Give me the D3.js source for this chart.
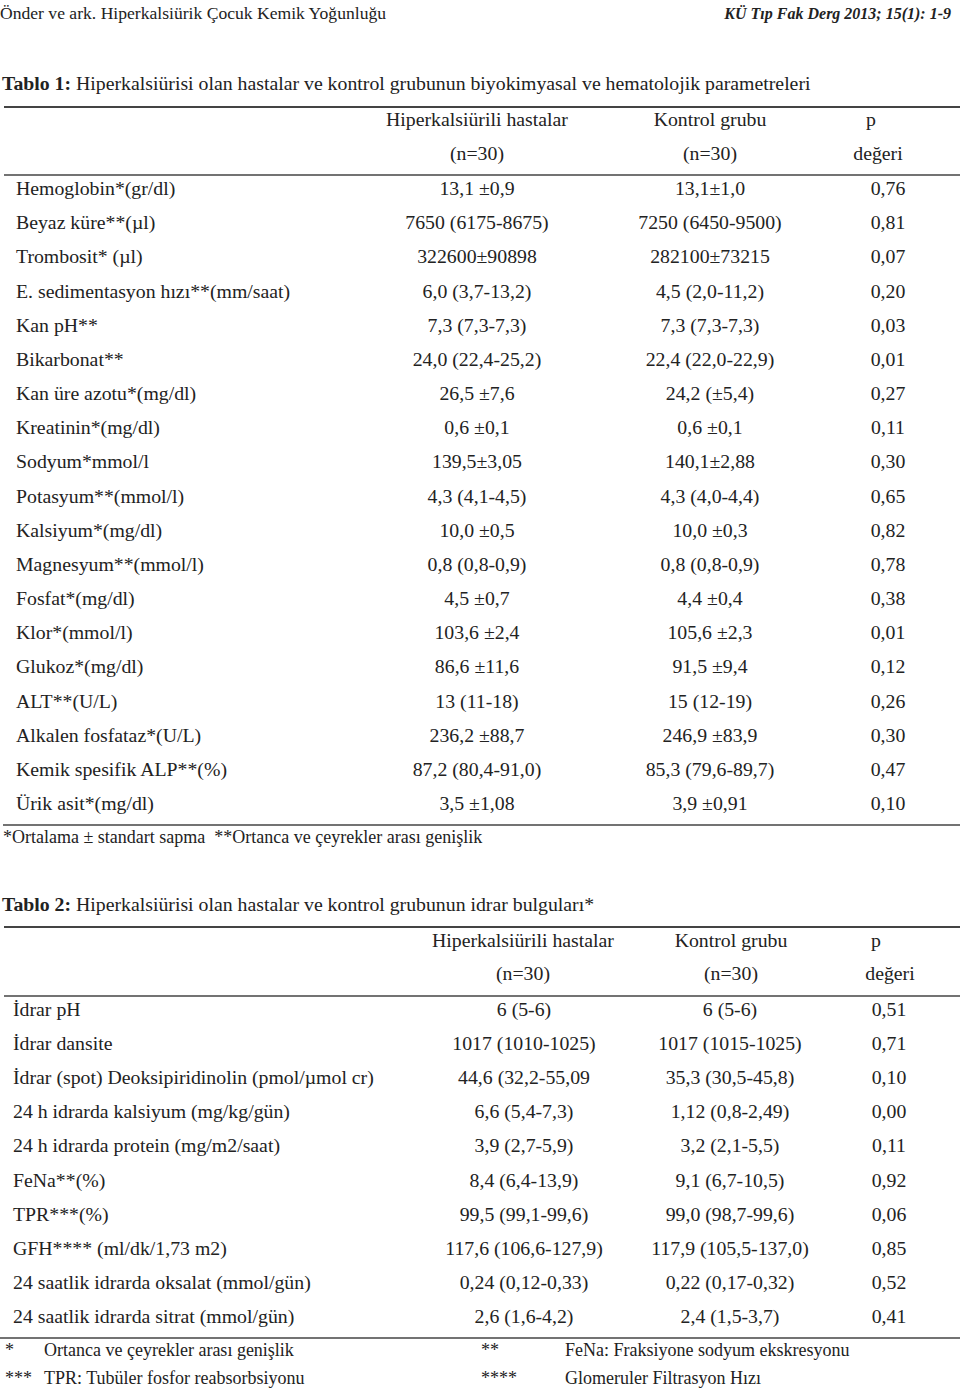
<!DOCTYPE html>
<html><head><meta charset="utf-8">
<script src="https://cdn.jsdelivr.net/npm/d3@7/dist/d3.min.js"></script>
<style>body{margin:0;background:#fff}svg{display:block}text{font-family:"Liberation Serif","Times New Roman",serif;fill:#222;white-space:pre}</style>
</head><body><div id="chart"></div>
<script>
const t1Labels = ["Hemoglobin*(gr/dl)","Beyaz küre**(µl)","Trombosit* (µl)","E. sedimentasyon hızı**(mm/saat)","Kan pH**","Bikarbonat**","Kan üre azotu*(mg/dl)","Kreatinin*(mg/dl)","Sodyum*mmol/l","Potasyum**(mmol/l)","Kalsiyum*(mg/dl)","Magnesyum**(mmol/l)","Fosfat*(mg/dl)","Klor*(mmol/l)","Glukoz*(mg/dl)","ALT**(U/L)","Alkalen fosfataz*(U/L)","Kemik spesifik ALP**(%)","Ürik asit*(mg/dl)"];
const t1Hyper = ["13,1 ±0,9","7650 (6175-8675)","322600±90898","6,0 (3,7-13,2)","7,3 (7,3-7,3)","24,0 (22,4-25,2)","26,5 ±7,6","0,6 ±0,1","139,5±3,05","4,3 (4,1-4,5)","10,0 ±0,5","0,8 (0,8-0,9)","4,5 ±0,7","103,6 ±2,4","86,6 ±11,6","13 (11-18)","236,2 ±88,7","87,2 (80,4-91,0)","3,5 ±1,08"];
const t1Control = ["13,1±1,0","7250 (6450-9500)","282100±73215","4,5 (2,0-11,2)","7,3 (7,3-7,3)","22,4 (22,0-22,9)","24,2 (±5,4)","0,6 ±0,1","140,1±2,88","4,3 (4,0-4,4)","10,0 ±0,3","0,8 (0,8-0,9)","4,4 ±0,4","105,6 ±2,3","91,5 ±9,4","15 (12-19)","246,9 ±83,9","85,3 (79,6-89,7)","3,9 ±0,91"];
const t1P = ["0,76","0,81","0,07","0,20","0,03","0,01","0,27","0,11","0,30","0,65","0,82","0,78","0,38","0,01","0,12","0,26","0,30","0,47","0,10"];

const t2Labels = ["İdrar pH","İdrar dansite","İdrar (spot) Deoksipiridinolin (pmol/µmol cr)","24 h idrarda kalsiyum (mg/kg/gün)","24 h idrarda protein (mg/m2/saat)","FeNa**(%)","TPR***(%)","GFH**** (ml/dk/1,73 m2)","24 saatlik idrarda oksalat (mmol/gün)","24 saatlik idrarda sitrat (mmol/gün)"];
const t2Hyper = ["6 (5-6)","1017 (1010-1025)","44,6 (32,2-55,09","6,6 (5,4-7,3)","3,9 (2,7-5,9)","8,4 (6,4-13,9)","99,5 (99,1-99,6)","117,6 (106,6-127,9)","0,24 (0,12-0,33)","2,6 (1,6-4,2)"];
const t2Control = ["6 (5-6)","1017 (1015-1025)","35,3 (30,5-45,8)","1,12 (0,8-2,49)","3,2 (2,1-5,5)","9,1 (6,7-10,5)","99,0 (98,7-99,6)","117,9 (105,5-137,0)","0,22 (0,17-0,32)","2,4 (1,5-3,7)"];
const t2P = ["0,51","0,71","0,10","0,00","0,11","0,92","0,06","0,85","0,52","0,41"];

const headTop = ["Hiperkalsiürili hastalar","Kontrol grubu","p"];
const headBottom = ["(n=30)","(n=30)","değeri"];
const t2Notes = [["*","Ortanca ve çeyrekler arası genişlik","**","FeNa: Fraksiyone sodyum ekskresyonu"],["***","TPR: Tubüler fosfor reabsorbsiyonu","****","Glomeruler Filtrasyon Hızı"]];

const W = 960, H = 1390;
const FS = 19.8, OFF = 7;
const svg = d3.select("#chart").append("svg").attr("width", W).attr("height", H);

// page header
svg.append("text").attr("x", 0).attr("y", 19).attr("font-size", 17.6).text("Önder ve ark. Hiperkalsiürik Çocuk Kemik Yoğunluğu");
svg.append("text").attr("x", 951).attr("y", 19).attr("font-size", 16).attr("text-anchor", "end")
  .attr("font-weight", "bold").attr("font-style", "italic").text("KÜ Tıp Fak Derg 2013; 15(1): 1-9");

function title(y, bold, rest) {
  const t = svg.append("text").attr("x", 2).attr("y", y).attr("font-size", FS);
  t.append("tspan").attr("font-weight", "bold").text(bold);
  t.append("tspan").text(rest);
}
function hline(y, x0, w) {
  svg.append("line").attr("x1", x0).attr("x2", W).attr("y1", y).attr("y2", y)
    .attr("stroke", "#444").attr("stroke-width", w);
}

function table(cfg) {
  const g = svg.append("g");
  const y = d3.scaleLinear().domain([0, cfg.labels.length - 1]).range(cfg.yRange);
  const colX = d3.scaleOrdinal().domain(["h", "c", "p"]).range(cfg.cols);
  const headX = d3.scaleOrdinal().domain([0, 1, 2]).range(cfg.headCols);
  g.selectAll(".ht").data(headTop).join("text").attr("font-size", FS).attr("text-anchor", "middle")
    .attr("x", (d, i) => headX(i)).attr("y", cfg.headY[0] + OFF).text(d => d);
  g.selectAll(".hb").data(headBottom).join("text").attr("font-size", FS).attr("text-anchor", "middle")
    .attr("x", (d, i) => i === 2 ? cfg.pHeadB : headX(i)).attr("y", cfg.headY[1] + OFF).text(d => d);
  const rows = cfg.labels.map((l, i) => ({l, h: cfg.h[i], c: cfg.c[i], p: cfg.p[i], i}));
  const r = g.selectAll(".row").data(rows).join("g");
  r.append("text").attr("font-size", FS).attr("x", cfg.labelX).attr("y", d => y(d.i) + OFF).text(d => d.l);
  ["h", "c", "p"].forEach(k => {
    r.append("text").attr("font-size", FS).attr("text-anchor", "middle")
      .attr("x", colX(k)).attr("y", d => y(d.i) + OFF).text(d => d[k]);
  });
}

// Table 1
title(90, "Tablo 1:", " Hiperkalsiürisi olan hastalar ve kontrol grubunun biyokimyasal ve hematolojik parametreleri");
hline(107, 4, 2);
table({labels: t1Labels, h: t1Hyper, c: t1Control, p: t1P, yRange: [188, 803],
  cols: [477, 710, 888], headCols: [477, 710, 871], pHeadB: 878, headY: [119, 153], labelX: 16});
hline(175, 4, 1.5);
hline(825, 3, 1.5);
svg.append("text").attr("x", 3).attr("y", 843).attr("font-size", 18)
  .text("*Ortalama ± standart sapma  **Ortanca ve çeyrekler arası genişlik");

// Table 2
title(911, "Tablo 2:", " Hiperkalsiürisi olan hastalar ve kontrol grubunun idrar bulguları*");
hline(927, 4, 2);
table({labels: t2Labels, h: t2Hyper, c: t2Control, p: t2P, yRange: [1009, 1316],
  cols: [524, 730, 889], headCols: [523, 731, 876], pHeadB: 890, headY: [940, 973], labelX: 13});
hline(996, 4, 1.5);
hline(1338, 0, 1.5);
const noteY = d3.scaleLinear().domain([0, 1]).range([1350, 1378]);
const noteX = [5, 44, 481, 565];
t2Notes.forEach((row, i) => {
  svg.append("g").selectAll("text").data(row).join("text").attr("font-size", 18)
    .attr("x", (d, j) => noteX[j]).attr("y", noteY(i) + 6).text(d => d);
});
</script></body></html>
